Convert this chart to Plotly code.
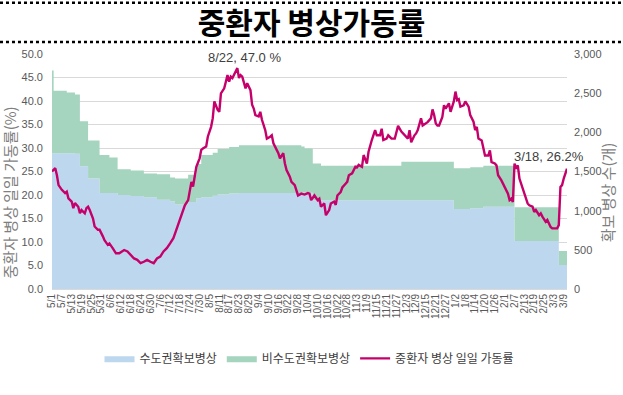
import pandas as pd
import plotly.graph_objects as go

START = pd.Timestamp("2021-05-01")
END_DAY = 314

tick_labels = ["5/1", "5/7", "5/13", "5/19", "5/25", "5/31", "6/6", "6/12", "6/18", "6/24",
               "6/30", "7/6", "7/12", "7/18", "7/24", "7/30", "8/5", "8/11", "8/17", "8/23",
               "8/29", "9/4", "9/10", "9/16", "9/22", "9/28", "10/4", "10/10", "10/16", "10/22",
               "10/28", "11/3", "11/9", "11/15", "11/21", "11/27", "12/3", "12/9", "12/15", "12/21",
               "12/27", "1/2", "1/8", "1/14", "1/20", "1/26", "2/1", "2/7", "2/13", "2/19",
               "2/25", "3/3", "3/9"]

# secured beds (step changes), day offset from 2021-05-01
bed_days = [0, 1, 9, 14, 17, 22, 29, 35, 40, 48, 56, 64, 72, 75, 83, 88, 91, 98, 101, 108,
            114, 152, 154, 159, 164, 213, 245, 255, 263, 282, 309, 314]
capital_beds = [1734, 1734, 1734, 1728, 1566, 1410, 1224, 1224, 1200, 1188, 1170, 1140, 1116,
                1080, 1110, 1158, 1170, 1194, 1206, 1218, 1224, 1230, 1230, 1134, 1134, 1134,
                1020, 1032, 1050, 612, 306, 306]
noncapital_beds = [1056, 798, 774, 756, 576, 486, 486, 456, 330, 324, 306, 324, 306, 330, 348,
                   438, 540, 546, 582, 594, 612, 588, 564, 468, 438, 492, 522, 522, 522, 432,
                   180, 180]

# daily ICU occupancy rate (%)
rate_days = [0, 2, 3, 4, 6, 8, 9, 10, 12, 13, 14, 16, 17, 18, 20, 21, 22, 23, 25, 26, 28, 29,
             31, 32, 34, 35, 37, 39, 41, 44, 46, 48, 50, 52, 54, 56, 58, 60, 62, 64, 66, 68, 70,
             72, 74, 75, 77, 79, 81, 83, 84, 85, 86, 87, 88, 90, 91, 92, 94, 95, 97, 98, 99, 101,
             102, 103, 105, 106, 107, 108, 109, 110, 111, 113, 114, 115, 116, 117, 118, 119, 121,
             122, 123, 124, 126, 127, 128, 130, 131, 133, 134, 135, 137, 138, 139, 141, 142, 143,
             145, 146, 148, 149, 150, 152, 154, 156, 157, 158, 160, 162, 163, 164, 166, 167, 169,
             170, 172, 173, 174, 176, 177, 179, 180, 181, 183, 185, 186, 187, 189, 190, 192, 193,
             194, 195, 197, 198, 200, 201, 202, 204, 205, 207, 209, 210, 211, 213, 214, 216, 217,
             218, 219, 221, 222, 223, 225, 226, 228, 229, 231, 232, 233, 234, 235, 236, 238, 239,
             240, 242, 243, 245, 246, 247, 248, 249, 251, 252, 254, 255, 257, 258, 259, 260, 262,
             263, 264, 266, 267, 268, 270, 271, 272, 274, 275, 276, 278, 279, 280, 281, 282, 283,
             284, 285, 286, 287, 288, 290, 291, 293, 294, 295, 297, 298, 299, 301, 302, 304, 305,
             307, 308, 309, 310, 311, 312, 314]
rate_values = [25.0, 25.7, 24.2, 22.1, 21.1, 20.4, 20.7, 19.3, 18.6, 17.2, 18.3, 17.5, 16.1, 16.8,
               16.1, 17.2, 17.5, 16.8, 15.0, 13.3, 12.6, 12.6, 11.2, 10.4, 9.4, 9.7, 8.7, 7.6, 7.6,
               8.3, 8.0, 7.2, 6.5, 6.2, 5.5, 5.8, 6.2, 5.8, 5.5, 6.5, 6.9, 8.0, 8.7, 9.7, 10.8,
               11.8, 13.9, 16.1, 17.8, 18.9, 21.0, 22.8, 21.8, 24.2, 26.0, 27.8, 29.6, 29.9, 30.3,
               32.4, 34.5, 36.3, 39.9, 38.1, 37.7, 41.6, 42.7, 44.1, 45.5, 44.1, 45.2, 44.9, 45.5,
               47.0, 44.9, 45.5, 45.2, 44.1, 42.7, 43.8, 42.3, 39.2, 38.4, 37.0, 36.7, 37.7, 36.0,
               33.8, 32.0, 32.4, 32.7, 31.0, 29.6, 28.9, 27.8, 28.9, 26.7, 25.3, 23.9, 22.8, 22.1,
               21.0, 19.9, 20.3, 20.1, 20.4, 20.3, 18.9, 19.9, 18.9, 19.2, 17.5, 18.2, 15.7, 16.8,
               18.2, 18.6, 17.9, 19.9, 20.6, 21.6, 22.4, 22.8, 24.2, 24.6, 26.0, 25.9, 26.4, 26.0,
               28.5, 26.7, 29.2, 30.6, 31.7, 33.8, 32.7, 32.7, 34.1, 31.7, 32.0, 32.7, 32.0, 32.0,
               33.1, 34.7, 33.5, 33.1, 32.4, 32.0, 33.8, 31.2, 32.7, 33.1, 33.8, 36.3, 34.8, 35.3,
               35.5, 36.3, 38.2, 37.0, 35.2, 34.8, 34.8, 36.6, 39.1, 38.4, 39.5, 37.7, 39.9, 42.0,
               40.2, 40.4, 38.8, 39.1, 39.9, 38.8, 37.0, 35.6, 33.8, 34.5, 32.0, 31.6, 30.2, 28.4,
               28.4, 29.5, 27.0, 26.7, 26.3, 24.2, 23.1, 22.4, 21.7, 20.3, 18.9, 19.2, 18.5, 26.7,
               25.6, 26.3, 23.5, 22.4, 21.0, 19.9, 18.2, 17.8, 17.5, 16.4, 16.8, 15.7, 16.1, 15.4,
               14.3, 14.7, 13.2, 12.9, 13.0, 12.9, 13.6, 21.7, 22.1, 23.5, 25.6]

peak_day, peak_label = 113, "8/22, 47.0 %"
spike_day, spike_label = 282, "3/18, 26.2%"
left_title = "중환자 병상 일일 가동률(%)"
right_title = "확보 병상 수(개)"


def to_dates(days):
    return [START + pd.Timedelta(days=int(d)) for d in days]


bed_x = to_dates(bed_days)
rate_x = to_dates(rate_days)
tick_x = to_dates(range(0, 6 * len(tick_labels), 6))

GRAY = "#595959"
FONT_NUM = "Liberation Sans Narrow, Arial Narrow, Liberation Sans, Arial, sans-serif"
FONT_KR = "Noto Sans CJK KR, sans-serif"

fig = go.Figure()
fig.add_trace(go.Scatter(
    x=bed_x, y=capital_beds, name="수도권확보병상", mode="lines",
    line=dict(width=0, shape="hv", color="#BDD7EE"), fillcolor="#BDD7EE",
    stackgroup="beds", yaxis="y"))
fig.add_trace(go.Scatter(
    x=bed_x, y=noncapital_beds, name="비수도권확보병상", mode="lines",
    line=dict(width=0, shape="hv", color="#A5D4BF"), fillcolor="#A5D4BF",
    stackgroup="beds", yaxis="y"))
fig.add_trace(go.Scatter(
    x=rate_x, y=rate_values, name="중환자 병상 일일 가동률", mode="lines",
    line=dict(width=2.4, color="#C5006B"), yaxis="y2"))

fig.add_annotation(x=START + pd.Timedelta(days=peak_day), y=rate_values[rate_days.index(peak_day)],
                   xref="x", yref="y2", text=peak_label, showarrow=False,
                   yanchor="bottom", xshift=7, yshift=1,
                   font=dict(family=FONT_NUM, size=13, color="#404040"))
fig.add_annotation(x=START + pd.Timedelta(days=spike_day), y=rate_values[rate_days.index(spike_day)],
                   xref="x", yref="y2", text=spike_label, showarrow=False,
                   xanchor="left", yanchor="middle", xshift=-3, yshift=7,
                   font=dict(family=FONT_NUM, size=13, color="#404040"))

# axis titles
fig.add_annotation(x=-0.082, y=0.41, xref="paper", yref="paper", text=left_title,
                   textangle=-90, showarrow=False, xanchor="center", yanchor="middle",
                   font=dict(family=FONT_KR, size=15, color="#7F7F7F"))
fig.add_annotation(x=1.079, y=0.41, xref="paper", yref="paper", text=right_title,
                   textangle=-90, showarrow=False, xanchor="center", yanchor="middle",
                   font=dict(family=FONT_KR, size=15, color="#7F7F7F"))

# title dotted rules
for yy in (1.218, 1.051):
    fig.add_shape(type="line", xref="paper", yref="paper", x0=-0.101, x1=1.109, y0=yy, y1=yy,
                  line=dict(color="black", width=2.5, dash="dot"))

fig.update_layout(
    width=623, height=395,
    margin=dict(l=52, r=56, t=54, b=106, autoexpand=False),
    paper_bgcolor="white", plot_bgcolor="white",
    title=dict(text="<b>중환자 병상가동률</b>", x=0.5, xanchor="center", y=0.94, yanchor="middle",
               font=dict(family=FONT_KR, size=30, color="black")),
    showlegend=True,
    legend=dict(orientation="h", x=0.5, xanchor="center", y=-0.295, yanchor="middle",
                font=dict(family=FONT_KR, size=12, color="#404040"), traceorder="normal",
                itemwidth=30),
    xaxis=dict(type="date", range=[START, START + pd.Timedelta(days=END_DAY)],
               tickvals=tick_x, ticktext=tick_labels, tickangle=-90, automargin=False,
               tickfont=dict(family=FONT_NUM, size=10, color=GRAY),
               showgrid=False, showline=True, linecolor="#D9D9D9", ticks=""),
    yaxis=dict(side="right", range=[0, 3000], tickvals=list(range(0, 3001, 500)),
               tickformat=",", showgrid=False, zeroline=False, automargin=False,
               ticklabelstandoff=6,
               tickfont=dict(family=FONT_NUM, size=11, color=GRAY)),
    yaxis2=dict(side="left", overlaying="y", range=[0, 50], dtick=5, tickformat=".1f",
                showgrid=True, gridcolor="#D9D9D9", zeroline=False, automargin=False,
                ticklabelstandoff=8,
                tickfont=dict(family=FONT_NUM, size=11, color=GRAY)),
)

fig.write_html("out.html", config={"displayModeBar": False},
               post_script="document.body.style.margin='0';")
